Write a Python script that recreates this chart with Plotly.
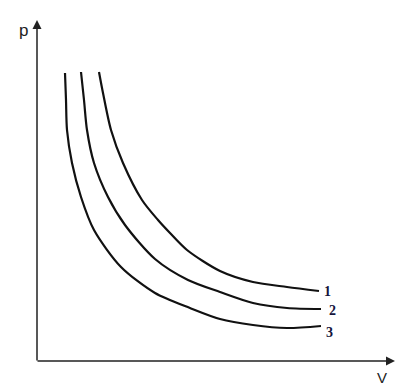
import plotly.graph_objects as go

# Isotherms (V, p in arbitrary units)
v1 = [6.2, 6.6, 7.4, 8.6, 10.5, 12.1, 13.3, 15.0, 18.3, 21.6, 25.0, 28.2]
p1 = [28.9, 26.8, 23.1, 19.8, 16.1, 14.1, 12.8, 11.1, 9.0, 7.9, 7.4, 7.0]

v2 = [4.4, 4.7, 5.0, 5.7, 7.1, 8.8, 11.8, 15.1, 18.3, 21.6, 25.0, 28.4]
p2 = [28.9, 26.1, 23.1, 19.8, 16.4, 13.6, 10.2, 8.1, 6.9, 5.8, 5.3, 5.2]

v3 = [2.8, 2.9, 3.0, 3.5, 4.4, 5.7, 8.4, 11.8, 15.3, 18.3, 21.6, 25.0, 28.4]
p3 = [28.8, 26.1, 23.1, 19.8, 16.4, 13.1, 9.4, 6.8, 5.3, 4.2, 3.6, 3.3, 3.5]

curve_labels = ["1", "2", "3"]
axis_labels = ["p", "V"]

fig = go.Figure()
for v, p in [(v1, p1), (v2, p2), (v3, p3)]:
    fig.add_trace(go.Scatter(x=v, y=p, mode="lines",
                             line=dict(color="#111111", width=2.2, shape="spline", smoothing=0.8),
                             hoverinfo="skip", showlegend=False))

# axes with arrows
fig.add_annotation(x=0, y=34.1, ax=0, ay=-0.1, xref="x", yref="y", axref="x", ayref="y",
                   text="", showarrow=True, arrowhead=2, arrowsize=1.2, arrowwidth=1.5,
                   arrowcolor="#222222", standoff=0, startstandoff=0)
fig.add_annotation(x=35.8, y=0, ax=-0.1, ay=0, xref="x", yref="y", axref="x", ayref="y",
                   text="", showarrow=True, arrowhead=2, arrowsize=1.2, arrowwidth=1.5,
                   arrowcolor="#222222", standoff=0, startstandoff=0)

# axis letters
fig.add_annotation(x=-1.4, y=33.1, text=axis_labels[0], showarrow=False,
                   font=dict(family="Liberation Sans", size=17, color="#222222"))
fig.add_annotation(x=34.5, y=-1.6, text=axis_labels[1], showarrow=False,
                   font=dict(family="Liberation Sans", size=15, color="#222222"))

# curve numbers next to curve ends
ends = [(v1[-1], p1[-1]), (v2[-1], p2[-1]), (v3[-1], p3[-1])]
offs = [(0.85, 0.0), (1.1, -0.1), (0.85, -0.6)]
for lab, (ve, pe), (dx, dy) in zip(curve_labels, ends, offs):
    fig.add_annotation(x=ve + dx, y=pe + dy, text="<b>" + lab + "</b>", showarrow=False,
                       font=dict(family="Liberation Serif", size=14, color="#14143c"))

fig.update_layout(
    width=401, height=386,
    margin=dict(l=0, r=0, t=0, b=0),
    paper_bgcolor="white", plot_bgcolor="white",
    xaxis=dict(range=[-3.7, 36.4], visible=False, fixedrange=True),
    yaxis=dict(range=[-2.5, 36.1], visible=False, fixedrange=True),
    showlegend=False,
)

fig.write_html("out.html")
